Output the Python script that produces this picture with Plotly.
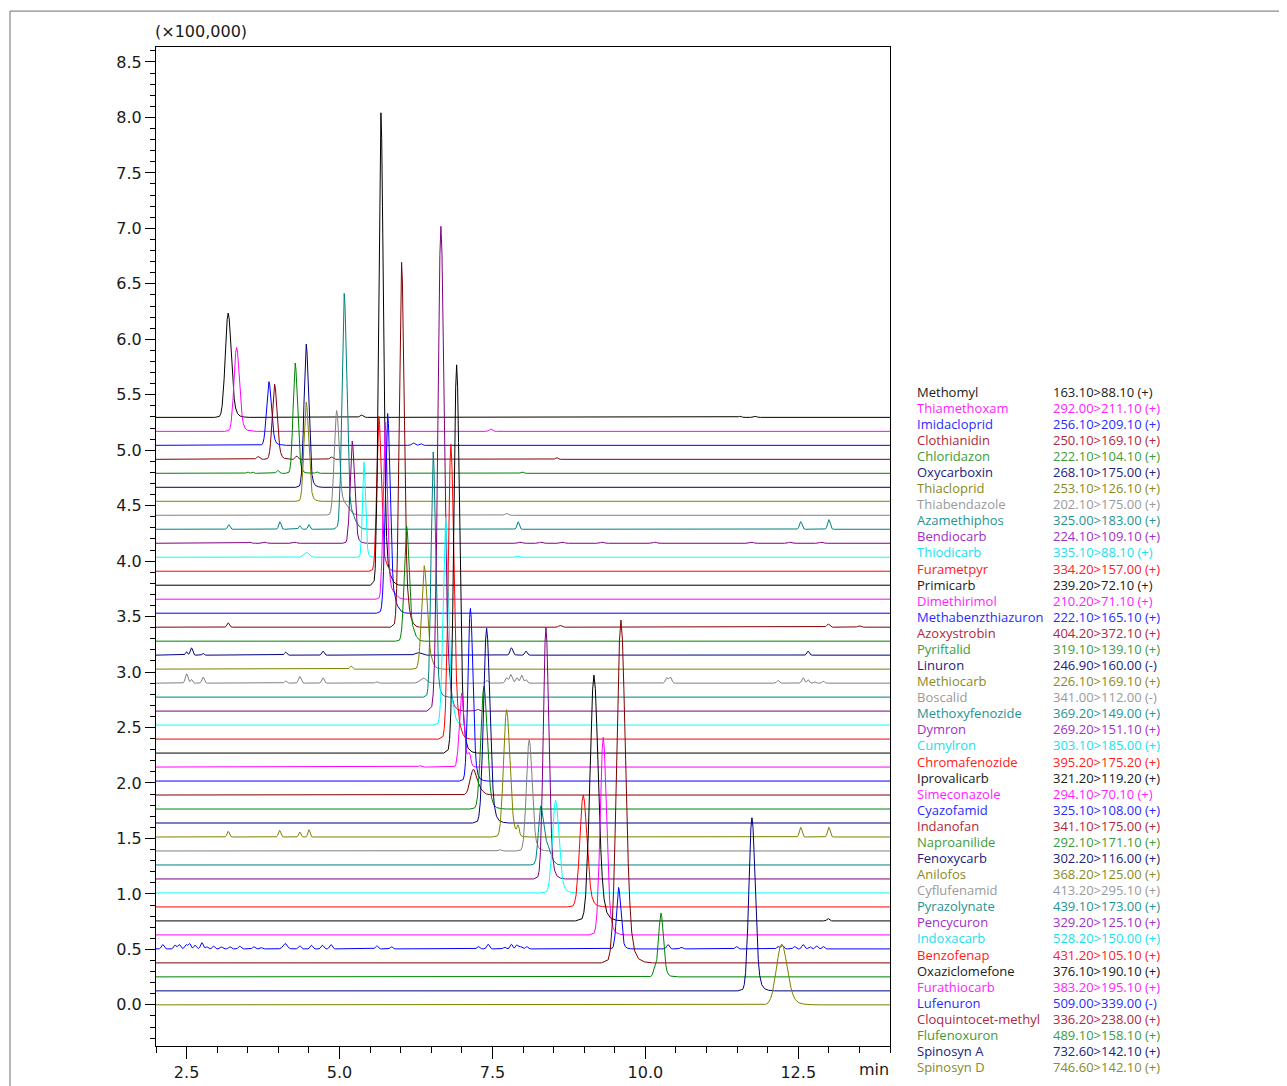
import numpy as np
import plotly.graph_objects as go

# ---------------- data ----------------
COMPOUNDS = [
    "Methomyl", "Thiamethoxam", "Imidacloprid", "Clothianidin", "Chloridazon",
    "Oxycarboxin", "Thiacloprid", "Thiabendazole", "Azamethiphos", "Bendiocarb",
    "Thiodicarb", "Furametpyr", "Primicarb", "Dimethirimol", "Methabenzthiazuron",
    "Azoxystrobin", "Pyriftalid", "Linuron", "Methiocarb", "Boscalid",
    "Methoxyfenozide", "Dymron", "Cumylron", "Chromafenozide", "Iprovalicarb",
    "Simeconazole", "Cyazofamid", "Indanofan", "Naproanilide", "Fenoxycarb",
    "Anilofos", "Cyflufenamid", "Pyrazolynate", "Pencycuron", "Indoxacarb",
    "Benzofenap", "Oxaziclomefone", "Furathiocarb", "Lufenuron", "Cloquintocet-methyl",
    "Flufenoxuron", "Spinosyn A", "Spinosyn D",
]

TRANSITIONS = [
    "163.10>88.10 (+)", "292.00>211.10 (+)", "256.10>209.10 (+)", "250.10>169.10 (+)",
    "222.10>104.10 (+)", "268.10>175.00 (+)", "253.10>126.10 (+)", "202.10>175.00 (+)",
    "325.00>183.00 (+)", "224.10>109.10 (+)", "335.10>88.10 (+)", "334.20>157.00 (+)",
    "239.20>72.10 (+)", "210.20>71.10 (+)", "222.10>165.10 (+)", "404.20>372.10 (+)",
    "319.10>139.10 (+)", "246.90>160.00 (-)", "226.10>169.10 (+)", "341.00>112.00 (-)",
    "369.20>149.00 (+)", "269.20>151.10 (+)", "303.10>185.00 (+)", "395.20>175.20 (+)",
    "321.20>119.20 (+)", "294.10>70.10 (+)", "325.10>108.00 (+)", "341.10>175.00 (+)",
    "292.10>171.10 (+)", "302.20>116.00 (+)", "368.20>125.00 (+)", "413.20>295.10 (+)",
    "439.10>173.00 (+)", "329.20>125.10 (+)", "528.20>150.00 (+)", "431.20>105.10 (+)",
    "376.10>190.10 (+)", "383.20>195.10 (+)", "509.00>339.00 (-)", "336.20>238.00 (+)",
    "489.10>158.10 (+)", "732.60>142.10 (+)", "746.60>142.10 (+)",
]

# main peak: retention time (min), height (x100,000), width (min)
RT = [3.18, 3.318, 3.846, 3.939, 4.276, 4.456, 4.456, 4.953, 5.077, 5.208,
      5.399, 5.644, 5.677, 5.747, 5.787, 6.015, 6.097, 7.81, 6.385, 7.80,
      6.532, 6.658, 6.735, 6.822, 6.915, 6.996, 7.14, 7.186, 7.361, 7.405,
      7.732, 8.102, 8.288, 8.375, 8.533, 8.985, 9.16, 9.312, 9.563, 9.601,
      10.255, 11.743, 12.229]
HEIGHT = [0.94, 0.757, 0.574, 0.677, 0.994, 1.29, 0.893, 0.92, 2.06, 0.921,
          0.858, 1.389, 4.25, 1.585, 1.788, 3.28, 1.031, 0.066, 0.923, 0.078,
          2.21, 4.37, 1.862, 2.647, 3.50, 0.667, 1.557, 0.216, 1.106, 1.756,
          1.148, 1.004, 0.457, 2.267, 0.838, 1.009, 2.216, 1.782, 0.554, 3.09,
          0.575, 1.561, 0.548]
WIDTH = [0.11, 0.10, 0.09, 0.09, 0.08, 0.085, 0.085, 0.09, 0.085, 0.08,
         0.055, 0.08, 0.085, 0.075, 0.09, 0.09, 0.09, 0.05, 0.10, 0.05,
         0.08, 0.115, 0.095, 0.10, 0.105, 0.085, 0.09, 0.12, 0.115, 0.115,
         0.115, 0.105, 0.085, 0.10, 0.12, 0.13, 0.15, 0.115, 0.08, 0.16,
         0.09, 0.115, 0.20]

# minor peaks / noise / tails: (compound, rt, height, width)
MINOR_PEAKS = [
    ("Methomyl", 5.36, 0.02, 0.06), ("Methomyl", 11.55, 0.01, 0.05), ("Methomyl", 11.8, 0.01, 0.05),
    ("Thiamethoxam", 7.475, 0.02, 0.06),
    ("Imidacloprid", 6.21, 0.02, 0.06), ("Imidacloprid", 6.33, 0.015, 0.05),
    ("Clothianidin", 3.67, 0.025, 0.06), ("Clothianidin", 4.30, 0.03, 0.05),
    ("Clothianidin", 4.87, 0.02, 0.06), ("Clothianidin", 8.55, 0.015, 0.05),
    ("Chloridazon", 3.50, 0.012, 0.04), ("Chloridazon", 3.58, 0.012, 0.04),
    ("Chloridazon", 3.99, 0.025, 0.05), ("Chloridazon", 4.63, 0.012, 0.05),
    ("Chloridazon", 7.99, 0.012, 0.05),
    ("Thiabendazole", 5.08, 0.09, 0.18), ("Thiabendazole", 7.73, 0.015, 0.06),
    ("Azamethiphos", 5.17, 0.12, 0.20), ("Azamethiphos", 3.19, 0.042, 0.045),
    ("Azamethiphos", 4.025, 0.067, 0.045), ("Azamethiphos", 4.35, 0.031, 0.04),
    ("Azamethiphos", 4.50, 0.042, 0.04), ("Azamethiphos", 7.92, 0.067, 0.045),
    ("Azamethiphos", 12.54, 0.069, 0.05), ("Azamethiphos", 13.0, 0.087, 0.05),
    ("Bendiocarb", 3.53, 0.01, 0.06), ("Bendiocarb", 3.78, 0.01, 0.06), ("Bendiocarb", 4.27, 0.01, 0.06),
    ("Bendiocarb", 7.96, 0.01, 0.06), ("Bendiocarb", 8.3, 0.01, 0.06), ("Bendiocarb", 8.65, 0.01, 0.06),
    ("Bendiocarb", 9.3, 0.01, 0.06), ("Bendiocarb", 10.16, 0.01, 0.06), ("Bendiocarb", 11.74, 0.01, 0.06),
    ("Bendiocarb", 12.37, 0.01, 0.06), ("Bendiocarb", 12.88, 0.01, 0.06),
    ("Thiodicarb", 4.46, 0.045, 0.10), ("Thiodicarb", 7.92, 0.01, 0.05),
    ("Furametpyr", 5.75, 0.04, 0.12),
    ("Primicarb", 5.80, 0.05, 0.15),
    ("Dimethirimol", 5.87, 0.05, 0.15),
    ("Methabenzthiazuron", 5.90, 0.06, 0.15),
    ("Azoxystrobin", 6.12, 0.06, 0.12), ("Azoxystrobin", 3.18, 0.039, 0.045),
    ("Azoxystrobin", 8.61, 0.015, 0.06), ("Azoxystrobin", 12.99, 0.027, 0.06),
    ("Azoxystrobin", 13.5, 0.012, 0.06),
    ("Pyriftalid", 6.20, 0.05, 0.12),
    ("Linuron", 2.50, 0.03, 0.04), ("Linuron", 2.58, 0.066, 0.045), ("Linuron", 2.77, 0.015, 0.04),
    ("Linuron", 4.12, 0.027, 0.045), ("Linuron", 4.73, 0.036, 0.045), ("Linuron", 6.29, 0.022, 0.12),
    ("Linuron", 8.05, 0.036, 0.045), ("Linuron", 12.66, 0.036, 0.045),
    ("Methiocarb", 5.19, 0.027, 0.05), ("Methiocarb", 6.48, 0.05, 0.12),
    ("Boscalid", 2.50, 0.084, 0.05), ("Boscalid", 2.58, 0.033, 0.04), ("Boscalid", 2.77, 0.054, 0.045),
    ("Boscalid", 4.12, 0.018, 0.045), ("Boscalid", 4.35, 0.06, 0.05), ("Boscalid", 4.73, 0.048, 0.045),
    ("Boscalid", 5.61, 0.012, 0.05), ("Boscalid", 6.37, 0.045, 0.12), ("Boscalid", 7.41, 0.024, 0.045),
    ("Boscalid", 7.73, 0.048, 0.05), ("Boscalid", 7.90, 0.048, 0.05), ("Boscalid", 7.98, 0.072, 0.05),
    ("Boscalid", 8.05, 0.033, 0.04), ("Boscalid", 10.35, 0.048, 0.05), ("Boscalid", 10.41, 0.054, 0.05),
    ("Boscalid", 12.17, 0.024, 0.045), ("Boscalid", 12.58, 0.048, 0.05), ("Boscalid", 12.66, 0.033, 0.04),
    ("Boscalid", 12.77, 0.012, 0.04), ("Boscalid", 12.91, 0.018, 0.04),
    ("Dymron", 6.79, 0.08, 0.08), ("Dymron", 7.26, 0.015, 0.06),
    ("Cumylron", 6.84, 0.08, 0.12),
    ("Chromafenozide", 6.93, 0.08, 0.12),
    ("Simeconazole", 7.12, 0.112, 0.06), ("Simeconazole", 6.32, 0.012, 0.06),
    ("Indanofan", 7.28, 0.04, 0.15),
    ("Anilofos", 3.18, 0.051, 0.045), ("Anilofos", 4.02, 0.06, 0.045), ("Anilofos", 4.35, 0.045, 0.04),
    ("Anilofos", 4.50, 0.066, 0.04), ("Anilofos", 7.92, 0.085, 0.045), ("Anilofos", 12.54, 0.087, 0.05),
    ("Anilofos", 13.0, 0.087, 0.05),
    ("Cyflufenamid", 7.62, 0.012, 0.06),
    ("Pyrazolynate", 8.38, 0.18, 0.16),
    ("Oxaziclomefone", 12.99, 0.02, 0.05),
    ("Lufenuron", 2.11, 0.039, 0.05), ("Lufenuron", 2.31, 0.033, 0.05), ("Lufenuron", 2.38, 0.039, 0.05),
    ("Lufenuron", 2.49, 0.039, 0.05), ("Lufenuron", 2.55, 0.048, 0.05), ("Lufenuron", 2.64, 0.033, 0.05),
    ("Lufenuron", 2.75, 0.057, 0.05), ("Lufenuron", 2.83, 0.018, 0.05), ("Lufenuron", 2.94, 0.024, 0.05),
    ("Lufenuron", 3.07, 0.018, 0.05), ("Lufenuron", 3.21, 0.018, 0.05), ("Lufenuron", 3.37, 0.024, 0.05),
    ("Lufenuron", 3.60, 0.018, 0.05), ("Lufenuron", 3.72, 0.012, 0.05), ("Lufenuron", 4.11, 0.048, 0.08),
    ("Lufenuron", 4.35, 0.027, 0.05), ("Lufenuron", 4.54, 0.033, 0.05), ("Lufenuron", 4.72, 0.033, 0.05),
    ("Lufenuron", 4.86, 0.039, 0.05), ("Lufenuron", 5.61, 0.027, 0.05), ("Lufenuron", 5.85, 0.018, 0.05),
    ("Lufenuron", 7.27, 0.02, 0.05), ("Lufenuron", 7.43, 0.042, 0.05), ("Lufenuron", 7.70, 0.015, 0.05),
    ("Lufenuron", 7.81, 0.042, 0.05), ("Lufenuron", 7.90, 0.036, 0.05), ("Lufenuron", 7.96, 0.02, 0.05),
    ("Lufenuron", 8.06, 0.02, 0.05), ("Lufenuron", 10.37, 0.039, 0.05), ("Lufenuron", 10.59, 0.015, 0.05),
    ("Lufenuron", 11.49, 0.02, 0.05), ("Lufenuron", 12.17, 0.02, 0.05), ("Lufenuron", 12.24, 0.033, 0.05),
    ("Lufenuron", 12.44, 0.02, 0.05), ("Lufenuron", 12.58, 0.039, 0.05), ("Lufenuron", 12.69, 0.02, 0.05),
    ("Lufenuron", 12.80, 0.027, 0.05), ("Lufenuron", 12.91, 0.02, 0.05),
    ("Flufenoxuron", 10.157, 0.072, 0.06),
]

# ---------------- shape templates & styles ----------------
# peak shape template (offset in widths, relative height) - slightly tailing
PEAK_X = [-2.0, -1.3, -1.1, -0.9, -0.75, -0.6, -0.45, -0.3, -0.15, 0.0, 0.15, 0.3, 0.45,
          0.6, 0.75, 0.9, 1.1, 1.4, 1.8, 2.4, 3.2]
PEAK_Y = [0.0, 0.009, 0.035, 0.106, 0.21, 0.369, 0.57, 0.779, 0.94, 1.0, 0.945, 0.80, 0.62,
          0.44, 0.29, 0.18, 0.09, 0.035, 0.012, 0.003, 0.0]
NOISE_X = [-1.6, -1.1, -0.75, -0.45, -0.2, 0.0, 0.2, 0.45, 0.75, 1.1, 1.6]
NOISE_Y = [0.0, 0.035, 0.21, 0.57, 0.9, 1.0, 0.9, 0.57, 0.21, 0.035, 0.0]

STEP = 0.1261  # vertical offset between stacked chromatograms
LINE_COLORS = ["#000000", "#ff00ff", "#0000ff", "#800000", "#008000", "#000080",
               "#808000", "#808080", "#008080", "#800080", "#00ffff", "#ff0000"]
LEGEND_COLORS = ["#202020", "#ff22ff", "#2a2aff", "#b0283c", "#3c9c3c", "#22227c",
                 "#8a8a1e", "#9a9a9a", "#1e9494", "#a030c8", "#20e0ee", "#ff2020"]

X_MIN, X_MAX = 2.0, 14.0
n = len(COMPOUNDS)

fig = go.Figure()
for i, name in enumerate(COMPOUNDS):
    offset = (n - 1 - i) * STEP
    peaks = [(RT[i], HEIGHT[i], WIDTH[i], PEAK_X, PEAK_Y)]
    peaks += [(t, h, w, NOISE_X, NOISE_Y) for (c, t, h, w) in MINOR_PEAKS if c == name]
    xs = [X_MIN, X_MAX]
    for t, h, w, px, py in peaks:
        xs += [t + w * p for p in px]
    x = np.unique(np.clip(np.array(xs), X_MIN, X_MAX))
    y = np.full_like(x, offset)
    for t, h, w, px, py in peaks:
        y = y + h * np.interp((x - t) / w, px, py, left=0.0, right=0.0)
    fig.add_trace(go.Scatter(
        x=x, y=y, mode="lines", name=name,
        line=dict(color=LINE_COLORS[i % 12], width=1),
        hoverinfo="skip", showlegend=False,
    ))

# ---------------- layout ----------------
PAGE_OFF = 8  # default body margin of the html page
W, H = 1287, 1086
L, T = 156 - PAGE_OFF, 47 - PAGE_OFF
R = W - (890 - PAGE_OFF)
B = H - (1049 - PAGE_OFF)
pw, ph = W - L - R, H - T - B


def px_x(px):
    return (px - PAGE_OFF - L) / pw


def px_y(py):
    return (H - B - (py - PAGE_OFF)) / ph


axis_font = dict(family="DejaVu Sans", size=16, color="#1a1a1a")

fig.update_layout(
    width=W, height=H,
    margin=dict(l=L, r=R, t=T, b=B),
    paper_bgcolor="white", plot_bgcolor="white",
    showlegend=False,
    xaxis=dict(
        range=[X_MIN, X_MAX], showgrid=False, zeroline=False,
        showline=True, mirror=True, linecolor="black", linewidth=1,
        ticks="outside", tick0=0, dtick=2.5, ticklen=12, tickwidth=1, tickcolor="black",
        tickformat=".1f", tickfont=axis_font,
        minor=dict(ticks="outside", dtick=0.5, ticklen=6, tickwidth=1, tickcolor="black", showgrid=False),
    ),
    yaxis=dict(
        range=[-0.371, 8.635], showgrid=False, zeroline=False,
        showline=True, mirror=True, linecolor="black", linewidth=1,
        ticks="outside", tick0=0, dtick=0.5, ticklen=10, tickwidth=1, tickcolor="black",
        tickformat=".1f", tickfont=axis_font,
        minor=dict(ticks="outside", dtick=0.1, ticklen=5, tickwidth=1, tickcolor="black", showgrid=False),
    ),
)

annotations = [
    dict(text="(×100,000)", x=px_x(201), y=px_y(31), xref="paper", yref="paper",
         xanchor="center", yanchor="middle", showarrow=False, font=axis_font),
    dict(text="min", x=px_x(874), y=px_y(1073), xref="paper", yref="paper",
         xanchor="center", yanchor="middle", showarrow=False, font=axis_font),
]
legend_font = "Open Sans"
for i, (name, tr) in enumerate(zip(COMPOUNDS, TRANSITIONS)):
    py = 392.7 + 16.13 * i
    col = LEGEND_COLORS[i % 12]
    annotations.append(dict(text=name, x=px_x(915), y=px_y(py), xref="paper", yref="paper",
                            xanchor="left", yanchor="middle", showarrow=False,
                            font=dict(family=legend_font, size=13, color=col)))
    annotations.append(dict(text=tr, x=px_x(1051), y=px_y(py), xref="paper", yref="paper",
                            xanchor="left", yanchor="middle", showarrow=False,
                            font=dict(family=legend_font, size=13, color=col)))
fig.update_layout(annotations=annotations)

# outer frame lines of the original picture
fig.update_layout(shapes=[
    dict(type="line", xref="paper", yref="paper", x0=px_x(10), y0=px_y(11), x1=px_x(1290), y1=px_y(11),
         line=dict(color="#6e6e6e", width=1)),
    dict(type="line", xref="paper", yref="paper", x0=px_x(10), y0=px_y(11), x1=px_x(10), y1=px_y(1090),
         line=dict(color="#6e6e6e", width=1)),
])

fig.write_html("out.html")
